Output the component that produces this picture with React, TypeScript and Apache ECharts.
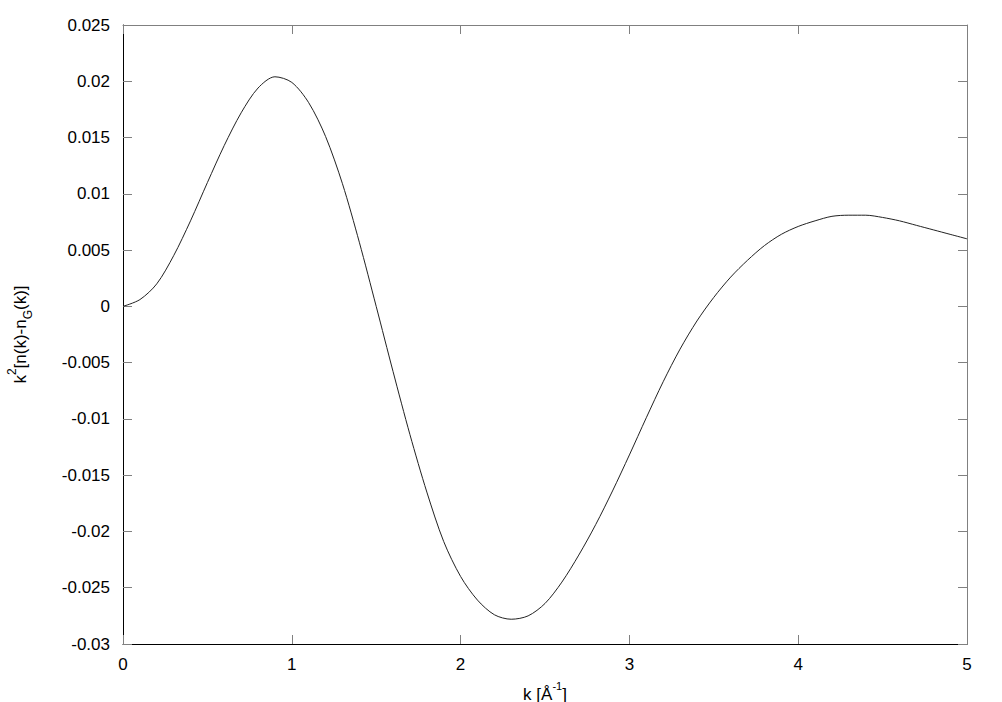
import React, { useEffect, useRef } from "react";
import * as echarts from "echarts";

const kValues = [0, 0.1, 0.2, 0.3, 0.4, 0.5, 0.6, 0.7, 0.8, 0.9, 1.0, 1.1, 1.2, 1.3, 1.4, 1.5, 1.6, 1.7, 1.8, 1.9, 2.0, 2.1, 2.2, 2.3, 2.4, 2.5, 2.6, 2.7, 2.8, 2.9, 3.0, 3.1, 3.2, 3.3, 3.4, 3.5, 3.6, 3.7, 3.8, 3.9, 4.0, 4.1, 4.2, 4.3, 4.4, 4.5, 4.6, 4.7, 4.8, 4.9, 5.0];
const yValues = [0, 0.0006, 0.0020, 0.0045, 0.0076, 0.0110, 0.0143, 0.0172, 0.0194, 0.0204, 0.0199, 0.0181, 0.0151, 0.0109, 0.0057, 0.0000, -0.0058, -0.0114, -0.0165, -0.0209, -0.0240, -0.0261, -0.0274, -0.0278, -0.0275, -0.0264, -0.0245, -0.0221, -0.0194, -0.0164, -0.0132, -0.0099, -0.0067, -0.0038, -0.0013, 0.0008, 0.0026, 0.0041, 0.0054, 0.0064, 0.0071, 0.0076, 0.0080, 0.0081, 0.0081, 0.0079, 0.0076, 0.0072, 0.0068, 0.0064, 0.0060];

const FONT = '"Liberation Sans", Arial, Helvetica, sans-serif';

export default function App() {
  const ref = useRef<HTMLDivElement>(null);
  useEffect(() => {
    if (!ref.current) return;
    const chart = echarts.init(ref.current, null, { renderer: "svg" });
    const labelStyle = { color: "#000", fontSize: 17, fontFamily: FONT };
    const tickStyle = { show: true, inside: true, length: 9, lineStyle: { color: "#808080", width: 1 } };
    chart.setOption({
      animation: false,
      backgroundColor: "#fff",
      grid: { left: 123, right: 35, top: 25, bottom: 58, containLabel: false, outerBoundsMode: "none" },
      xAxis: [
        {
          type: "value",
          min: 0,
          max: 5,
          interval: 1,
          position: "bottom",
          axisLine: { show: true, onZero: false, lineStyle: { color: "#000", width: 1 } },
          axisTick: tickStyle,
          splitLine: { show: false },
          axisLabel: { ...labelStyle, margin: 12 },
          name: "k [Å{sup|-1}]",
          nameLocation: "middle",
          nameGap: 36,
          nameTextStyle: {
            ...labelStyle,
            lineHeight: 28,
            rich: {
              sup: { fontSize: 11, fontFamily: FONT, color: "#000", verticalAlign: "top", lineHeight: 18 },
            },
          },
        },
        {
          type: "value",
          min: 0,
          max: 5,
          interval: 1,
          position: "top",
          axisLine: { show: true, onZero: false, lineStyle: { color: "#808080", width: 1 } },
          axisTick: tickStyle,
          splitLine: { show: false },
          axisLabel: { show: false },
        },
      ],
      yAxis: [
        {
          type: "value",
          min: -0.03,
          max: 0.025,
          interval: 0.005,
          position: "left",
          axisLine: { show: true, onZero: false, lineStyle: { color: "#000", width: 1 } },
          axisTick: tickStyle,
          splitLine: { show: false },
          axisLabel: {
            ...labelStyle,
            margin: 13,
            formatter: (v: number) => String(parseFloat(v.toFixed(4))),
          },
          name: "k{sup|2}[n(k)-n{sub|G}(k)]",
          nameLocation: "middle",
          nameRotate: 90,
          nameGap: 89,
          nameTextStyle: {
            ...labelStyle,
            lineHeight: 28,
            rich: {
              sup: { fontSize: 12, fontFamily: FONT, color: "#000", verticalAlign: "top", lineHeight: 18 },
              sub: { fontSize: 12, fontFamily: FONT, color: "#000", verticalAlign: "bottom", lineHeight: 18 },
            },
          },
        },
        {
          type: "value",
          min: -0.03,
          max: 0.025,
          interval: 0.005,
          position: "right",
          axisLine: { show: true, onZero: false, lineStyle: { color: "#808080", width: 1 } },
          axisTick: tickStyle,
          splitLine: { show: false },
          axisLabel: { show: false },
        },
      ],
      series: [
        {
          type: "line",
          data: kValues.map((k, i) => [k, yValues[i]]),
          xAxisIndex: 0,
          yAxisIndex: 0,
          smooth: 0.3,
          showSymbol: false,
          lineStyle: { color: "#222", width: 1 },
        },
      ],
    });
    return () => chart.dispose();
  }, []);
  return (
    <div
      ref={ref}
      style={{ position: "fixed", left: 0, top: 0, width: 1002, height: 702, background: "#fff" }}
    />
  );
}
